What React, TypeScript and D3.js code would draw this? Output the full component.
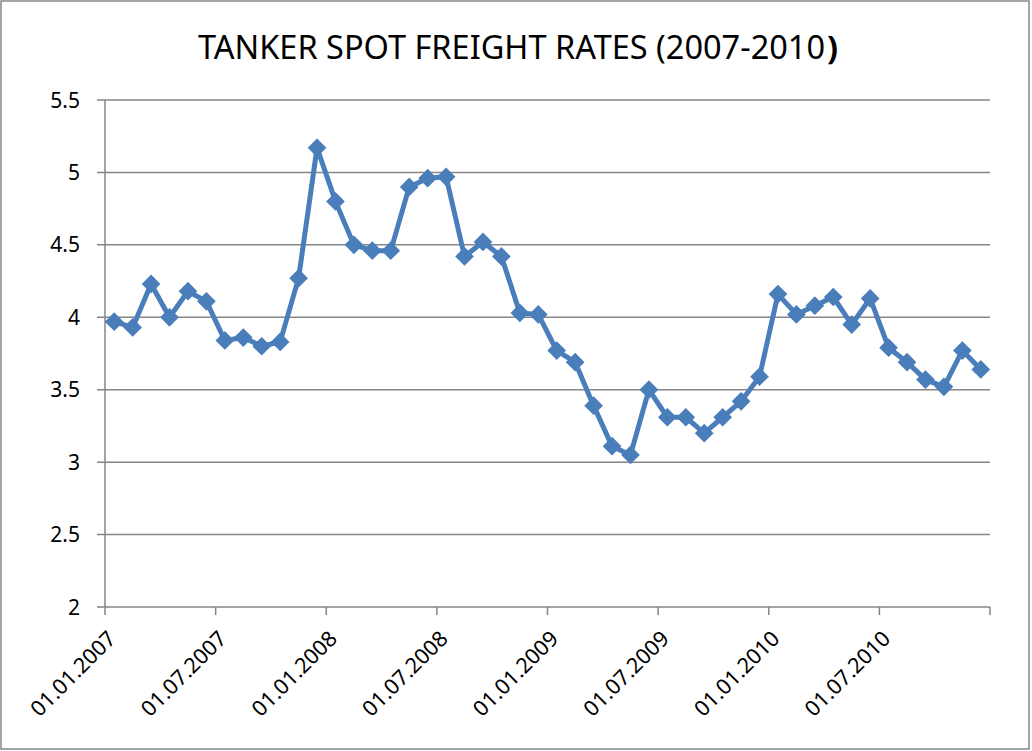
import React from "react";
import * as d3 from "d3";

// monthly categories Jan 2007 .. Dec 2010
const months = d3.timeMonth.range(new Date(2007, 0, 1), new Date(2011, 0, 1));

const rates = [
  3.97, 3.93, 4.23, 4.0, 4.18, 4.11, 3.84, 3.86, 3.8, 3.83, 4.27, 5.17,
  4.8, 4.5, 4.46, 4.46, 4.9, 4.96, 4.97, 4.42, 4.52, 4.42, 4.03, 4.02,
  3.77, 3.69, 3.39, 3.11, 3.05, 3.5, 3.31, 3.31, 3.2, 3.31, 3.42, 3.59,
  4.16, 4.02, 4.08, 4.14, 3.95, 4.13, 3.79, 3.69, 3.57, 3.52, 3.77, 3.64,
];

const yTicks = [2, 2.5, 3, 3.5, 4, 4.5, 5, 5.5];

const xTickLabels = [
  "01.01.2007",
  "01.07.2007",
  "01.01.2008",
  "01.07.2008",
  "01.01.2009",
  "01.07.2009",
  "01.01.2010",
  "01.07.2010",
];

const W = 1032;
const H = 751;
const left = 105;
const right = 990;
const top = 100;
const bottom = 607;
const grid = "#868686";
const blue = "#4A7EBB";
const font = "'Noto Sans', 'Open Sans', sans-serif";

export default function App() {
  const x = d3
    .scaleBand<number>()
    .domain(d3.range(months.length))
    .range([left, right])
    .paddingInner(0)
    .paddingOuter(0);
  const y = d3.scaleLinear().domain([2, 5.5]).range([bottom, top]);

  const cx = (i: number) => x(i)! + x.bandwidth() / 2;

  const line = d3
    .line<number>()
    .x((_, i) => cx(i))
    .y((d) => y(d));

  const diamond = d3.symbol().type(d3.symbolSquare).size(175)();

  // tick marks every 6 categories plus the closing one
  const tickIdx = d3.range(0, months.length + 1, 6);

  return (
    <svg
      width={W}
      height={H}
      style={{ position: "absolute", left: 0, top: 0, background: "#fff" }}
      fontFamily={font}
    >
      <rect x={1} y={1} width={1028} height={748} fill="#fff" stroke={grid} strokeWidth={1.5} />

      {/* title, closing paren drawn bold like the original */}
      <text x={825} y={59} fontSize={32.5} fill="#000" textAnchor="end">
        TANKER SPOT FREIGHT RATES (2007-2010
      </text>
      <text x={827} y={59} fontSize={32.5} fontWeight="bold" fill="#000">
        )
      </text>

      {yTicks.map((t) => (
        <g key={t}>
          <line x1={left - 8} x2={right} y1={y(t)} y2={y(t)} stroke={grid} strokeWidth={1.5} />
          <text x={80} y={y(t)} dy="0.36em" textAnchor="end" fontSize={21} fill="#000">
            {t}
          </text>
        </g>
      ))}

      <line x1={left} x2={left} y1={top} y2={bottom} stroke={grid} strokeWidth={1.5} />

      {tickIdx.map((i) => {
        const tx = i < months.length ? x(i)! : right;
        return (
          <line key={i} x1={tx} x2={tx} y1={bottom} y2={bottom + 8} stroke={grid} strokeWidth={1.5} />
        );
      })}

      {xTickLabels.map((lab, k) => {
        const px = cx(k * 6) + 3;
        const py = bottom + 33;
        return (
          <text
            key={lab}
            transform={`translate(${px},${py}) rotate(-45)`}
            textAnchor="end"
            fontSize={21.5}
            fill="#000"
          >
            {lab}
          </text>
        );
      })}

      <path d={line(rates)!} fill="none" stroke={blue} strokeWidth={5} strokeLinejoin="round" />

      {rates.map((r, i) => (
        <path
          key={i}
          d={diamond!}
          transform={`translate(${cx(i)},${y(r)}) rotate(45)`}
          fill={blue}
        />
      ))}
    </svg>
  );
}
